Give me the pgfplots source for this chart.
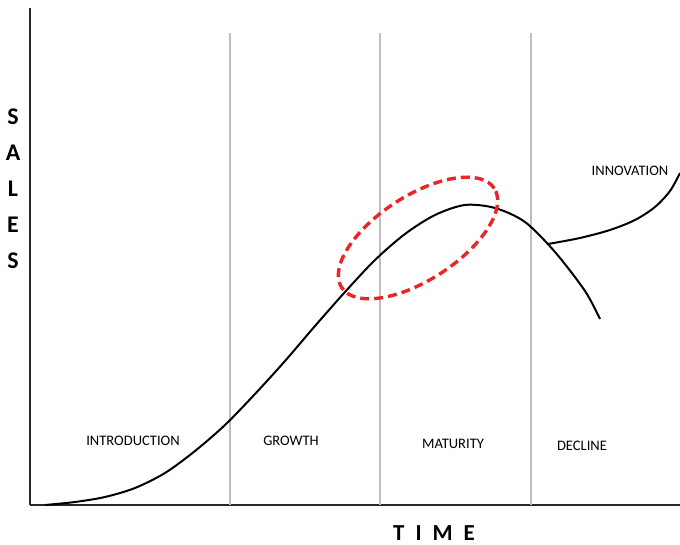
\documentclass[border=0pt]{standalone}
\usepackage{pgfplots}
\pgfplotsset{compat=1.18}
\usepackage{fontspec}
\setmainfont{Carlito}
\definecolor{stage}{RGB}{190,190,190}
\definecolor{ring}{RGB}{232,38,38}
\definecolor{axisc}{RGB}{40,40,40}

\begin{document}
\begin{tikzpicture}
\begin{axis}[
    x=1bp, y=1bp,
    xmin=30, xmax=680, ymin=0, ymax=497,
    axis lines=left,
    axis line style={-, axisc, line width=2.4bp},
    ticks=none,
    clip=false,
]
% stage boundaries
\addplot[stage, line width=1.4bp] coordinates {(230,0) (230,472)};
\addplot[stage, line width=1.4bp] coordinates {(380,0) (380,472)};
\addplot[stage, line width=1.4bp] coordinates {(531,0) (531,472)};

% product life cycle curve
\addplot[black, line width=2bp, smooth] coordinates {
 (45,0) (75,3) (105,8) (135,17) (165,32) (195,54) (225,80) (255,111)
 (285,144) (315,179) (345,213) (375,245) (405,271) (435,290) (465,300)
 (495,297) (525,283) (555,253) (585,214) (600,186)};

% innovation branch
\addplot[black, line width=2bp, smooth] coordinates {
 (548,261) (580,267) (610,275) (635,285) (655,298) (670,314) (680,332)};

\draw[ring, line width=3.4bp, dash pattern=on 9bp off 5bp,
      rotate around={33:(axis cs:418,267)}]
      (axis cs:418,267) ellipse [x radius=91bp, y radius=42bp];

\node[font=\fontsize{14.6}{16}\selectfont] at (axis cs:133,64) {INTRODUCTION};
\node[font=\fontsize{14.6}{16}\selectfont] at (axis cs:291,64) {GROWTH};
\node[font=\fontsize{14.6}{16}\selectfont] at (axis cs:453,61) {MATURITY};
\node[font=\fontsize{14.6}{16}\selectfont] at (axis cs:582,59) {DECLINE};
\node[font=\fontsize{14.6}{16}\selectfont] at (axis cs:630,334) {INNOVATION};

\node[font=\fontsize{23}{26}\bfseries\selectfont] at (axis cs:434,-28) {T\hspace{11bp}I\hspace{11bp}M\hspace{11bp}E};
\node[font=\fontsize{24}{26}\bfseries\selectfont, align=center] at (axis cs:13,316) {S\\[10bp]A\\[10bp]L\\[10bp]E\\[10bp]S};

\coordinate (bl) at (axis cs:0,-40);
\coordinate (tr) at (axis cs:680,505);
\end{axis}
\pgfresetboundingbox
\path[use as bounding box] (bl) rectangle (tr);
\end{tikzpicture}
\end{document}
